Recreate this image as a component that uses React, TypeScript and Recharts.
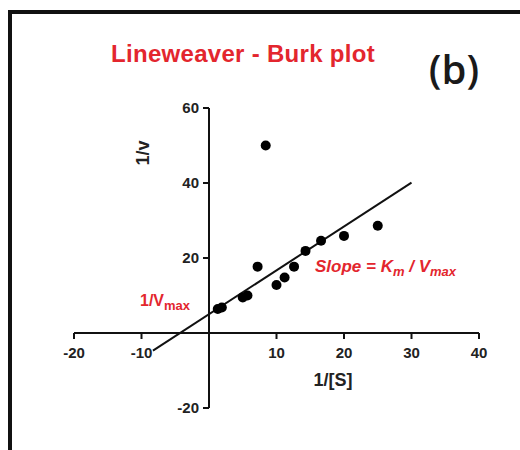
import { ScatterChart, Scatter, XAxis, YAxis, ReferenceLine, ReferenceDot } from 'recharts';

const RED = '#e3262e';

// 1/[S] vs 1/v measurements
const invS = [1.3, 1.9, 5.0, 5.7, 7.2, 8.4, 10.0, 11.2, 12.6, 14.3, 16.6, 20.0, 25.0];
const invV = [6.4, 6.8, 9.5, 10.0, 17.7, 50.0, 12.8, 14.8, 17.7, 21.9, 24.6, 25.9, 28.6];

// fitted line end points
const fitX = [-8.3, 30];
const fitY = [-4.7, 40.1];

const xTicks = [-20, -10, 10, 20, 30, 40];
const yTicks = [-20, 20, 40, 60];

const points = invS.map((x, i) => ({ x, y: invV[i] }));
const fitSegment = fitX.map((x, i) => ({ x, y: fitY[i] }));

const tickFont = { fontFamily: 'Arial, "Liberation Sans", sans-serif', fontWeight: 700 };

function XTick({ cx, cy, value }: any) {
  return (
    <g>
      <line x1={cx} y1={cy} x2={cx} y2={cy + 6} stroke="#111" strokeWidth={2} />
      <text x={cx} y={cy + 25} textAnchor="middle" fontSize={15} fill="#222" style={tickFont}>
        {value}
      </text>
    </g>
  );
}

function YTick({ cx, cy, value }: any) {
  return (
    <g>
      <line x1={cx - 6} y1={cy} x2={cx} y2={cy} stroke="#111" strokeWidth={2} />
      <text x={cx - 10} y={cy + 5} textAnchor="end" fontSize={15} fill="#222" style={tickFont}>
        {value}
      </text>
    </g>
  );
}

export default function App() {
  return (
    <div style={{ position: 'absolute', left: 0, top: 0, width: 520, height: 450, overflow: 'hidden', background: '#fff' }}>
      <div
        style={{
          position: 'absolute',
          left: 8,
          top: 10,
          width: 700,
          height: 700,
          borderTop: '4px solid #111',
          borderLeft: '4px solid #111',
        }}
      />
      <div style={{ position: 'absolute', left: 0, top: 0 }}>
        <ScatterChart width={520} height={450} margin={{ top: 108, right: 41, bottom: 42, left: 74 }}>
          <XAxis type="number" dataKey="x" domain={[-20, 40]} hide />
          <YAxis type="number" dataKey="y" domain={[-20, 60]} hide />
          <ReferenceLine y={0} stroke="#111" strokeWidth={2} />
          <ReferenceLine x={0} stroke="#111" strokeWidth={2} />
          {xTicks.map((t) => (
            <ReferenceDot
              key={'x' + t}
              x={t}
              y={0}
              r={0}
              shape={(p: any) => <XTick cx={p.cx} cy={p.cy} value={t} />}
            />
          ))}
          {yTicks.map((t) => (
            <ReferenceDot
              key={'y' + t}
              x={0}
              y={t}
              r={0}
              shape={(p: any) => <YTick cx={p.cx} cy={p.cy} value={t} />}
            />
          ))}
          <ReferenceLine segment={fitSegment} stroke="#111" strokeWidth={2} />
          <Scatter data={points} fill="#000" isAnimationActive={false} shape={(p: any) => <circle cx={p.cx} cy={p.cy} r={5} fill="#000" />} />
        </ScatterChart>
      </div>
      <svg width={520} height={450} style={{ position: 'absolute', left: 0, top: 0, pointerEvents: 'none' }}>
        <text x={243} y={62} textAnchor="middle" fontSize={24} letterSpacing={0.3} fill={RED} style={tickFont}>
          Lineweaver - Burk plot
        </text>
        <text x={454} y={84} textAnchor="middle" fontSize={40} fill="#1a1a1a" style={{ fontFamily: '"Open Sans", sans-serif', fontWeight: 600 }}>
          (b)
        </text>
        <text x={333} y={386} textAnchor="middle" fontSize={18} fill="#222" style={tickFont}>
          1/[S]
        </text>
        <text x={149} y={153} textAnchor="middle" fontSize={18} fill="#222" style={tickFont} transform="rotate(-90 149 153)">
          1/v
        </text>
        <text x={315} y={272} fontSize={17} fill={RED} fontStyle="italic" style={tickFont}>
          Slope = K<tspan fontSize={13} dy={4}>m</tspan>
          <tspan dy={-4}> / V</tspan>
          <tspan fontSize={13} dy={4}>max</tspan>
        </text>
        <text x={140} y={306} fontSize={16} fill={RED} style={tickFont}>
          1/V<tspan fontSize={13} dy={4}>max</tspan>
        </text>
      </svg>
    </div>
  );
}
